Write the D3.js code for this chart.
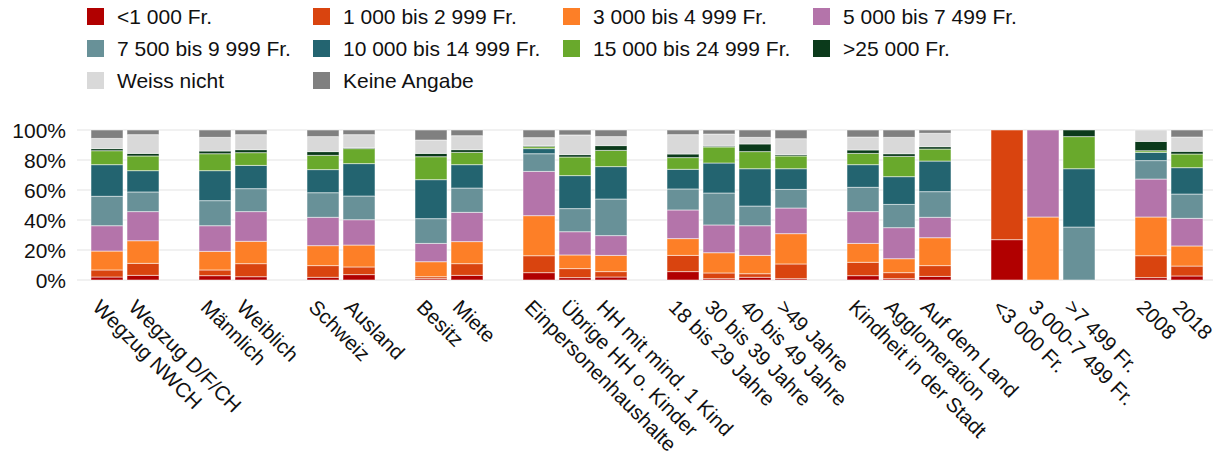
<!DOCTYPE html>
<meta charset="utf-8">
<html>
<head>
<style>
body { margin: 0; background: #fff; }
text {
  font-family: "Liberation Sans", Arial, sans-serif;
  font-size: 21px;
  fill: #111;
}
.xlabel { font-size: 20.5px; }
.grid line {
  stroke: #ececec;
  stroke-width: 1.5;
}
.bar rect {
  stroke: #fff;
  stroke-opacity: 0.5;
  stroke-width: 1;
}
</style>
<script src="https://cdnjs.cloudflare.com/ajax/libs/d3/7.8.5/d3.min.js"></script>
</head>
<body>
<svg width="1217" height="461"></svg>
<script>
// bar groups (an empty slot is left between groups)
var groups = [
  ["Wegzug NWCH", "Wegzug D/F/CH"],
  ["Männlich", "Weiblich"],
  ["Schweiz", "Ausland"],
  ["Besitz", "Miete"],
  ["Einpersonenhaushalte", "Übrige HH o. Kinder", "HH mit mind. 1 Kind"],
  ["18 bis 29 Jahre", "30 bis 39 Jahre", "40 bis 49 Jahre", ">49 Jahre"],
  ["Kindheit in der Stadt", "Agglomeration", "Auf dem Land"],
  ["<3 000 Fr.", "3 000-7 499 Fr.", ">7 499 Fr."],
  ["2008", "2018"]
];

var seriesNames = ["<1 000 Fr.", "1 000 bis 2 999 Fr.", "3 000 bis 4 999 Fr.", "5 000 bis 7 499 Fr.",
  "7 500 bis 9 999 Fr.", "10 000 bis 14 999 Fr.", "15 000 bis 24 999 Fr.", ">25 000 Fr.",
  "Weiss nicht", "Keine Angabe"];

var colors = ["#b10000", "#d9440f", "#fd7f27", "#b474aa", "#689198", "#236470", "#69a92c", "#0b3a1b", "#d9d9d9", "#808080"];

// shares in % per bar, same order as the labels in groups
var lt1000    = [2.0, 3.1, 2.9, 2.2, 1.8, 3.6, 0.9, 3.1, 4.9, 1.6, 2.0, 5.6, 0.9, 1.8, 0.9, 2.9, 0.9, 2.4, 26.9, 0, 0, 1.6, 2.7];
var b1000     = [4.7, 8.0, 3.8, 8.7, 7.8, 5.1, 1.3, 7.8, 11.3, 6.0, 3.6, 10.8, 3.8, 2.4, 9.8, 8.9, 4.0, 7.2, 73.1, 0, 0, 14.6, 6.6];
var b3000     = [12.6, 15.1, 12.4, 14.9, 13.3, 14.6, 10.0, 14.7, 26.7, 9.1, 10.8, 11.2, 13.5, 12.2, 20.2, 12.6, 9.3, 18.6, 0, 42.0, 0, 25.8, 13.4];
var b5000     = [16.9, 19.4, 17.1, 19.8, 18.9, 16.9, 12.2, 19.5, 29.5, 15.5, 13.2, 19.1, 18.5, 19.8, 17.1, 21.2, 20.7, 13.6, 0, 58.0, 0, 25.3, 18.4];
var b7500     = [19.6, 13.1, 16.7, 15.3, 16.4, 15.8, 16.5, 16.2, 11.8, 15.4, 24.4, 14.0, 21.3, 13.1, 12.4, 16.2, 15.5, 17.1, 0, 0, 35.3, 12.3, 16.2];
var b10000    = [21.1, 14.2, 20.0, 15.5, 15.4, 21.6, 26.0, 15.6, 3.4, 22.0, 21.6, 13.1, 20.0, 24.9, 13.8, 15.1, 18.5, 20.4, 0, 0, 38.9, 5.5, 17.6];
var b15000    = [9.3, 9.8, 11.3, 8.5, 9.5, 10.0, 15.3, 8.2, 1.3, 12.4, 10.8, 7.8, 10.7, 11.4, 8.5, 7.5, 13.5, 8.0, 0, 0, 21.4, 1.1, 9.1];
var gt25000   = [1.4, 1.7, 1.8, 2.0, 2.5, 0.6, 2.2, 1.8, 0.7, 1.6, 3.2, 2.4, 0.6, 5.1, 0.9, 2.3, 1.8, 1.6, 0, 0, 4.4, 6.2, 1.8];
var weiss     = [6.8, 12.5, 9.1, 10.0, 10.0, 8.7, 8.9, 9.3, 5.3, 13.1, 6.0, 12.9, 8.0, 4.4, 10.6, 8.6, 10.9, 8.9, 0, 0, 0, 7.6, 9.5];
var keine     = [5.6, 3.1, 4.9, 3.1, 4.4, 3.1, 6.7, 3.8, 5.1, 3.3, 4.4, 3.1, 2.7, 4.9, 5.8, 4.7, 4.9, 2.2, 0, 0, 0, 0, 4.7];

var yTicks = [0, 20, 40, 60, 80, 100];

var seriesValues = [lt1000, b1000, b3000, b5000, b7500, b10000, b15000, gt25000, weiss, keine];

var svg = d3.select("svg");

// slot domain with blanks between groups
var slots = [], labels = [];
groups.forEach(function(g, gi) {
  if (gi > 0) slots.push("_gap" + gi);
  g.forEach(function(l) { slots.push(l); labels.push(l); });
});

var table = labels.map(function(l, i) {
  var row = {label: l};
  seriesNames.forEach(function(s, j) { row[s] = seriesValues[j][i]; });
  return row;
});

var x = d3.scaleBand()
    .domain(slots)
    .range([77, 1217])
    .paddingInner(4 / 36)
    .paddingOuter(0.389);

var y = d3.scaleLinear()
    .domain([0, 100])
    .range([280, 130]);

// grid
svg.append("g")
    .attr("class", "grid")
  .selectAll("line")
  .data(yTicks)
  .enter().append("line")
    .attr("x1", 77)
    .attr("x2", 1213)
    .attr("y1", function(d) { return y(d); })
    .attr("y2", function(d) { return y(d); });

svg.append("g")
  .selectAll("text")
  .data(yTicks)
  .enter().append("text")
    .attr("x", 66)
    .attr("y", function(d) { return y(d); })
    .attr("dy", "0.36em")
    .attr("text-anchor", "end")
    .text(function(d) { return d + "%"; });

// stacked bars
var stack = d3.stack().keys(seriesNames);
var layers = stack(table);

svg.selectAll(".bar")
  .data(layers)
  .enter().append("g")
    .attr("class", "bar")
    .attr("fill", function(d, i) { return colors[i]; })
  .selectAll("rect")
  .data(function(d) { return d.filter(function(p) { return p[1] - p[0] > 0; }); })
  .enter().append("rect")
    .attr("x", function(d) { return x(d.data.label); })
    .attr("width", x.bandwidth())
    .attr("y", function(d) { return y(d[1]); })
    .attr("height", function(d) { return y(d[0]) - y(d[1]); });

// x labels, rotated
svg.append("g")
  .selectAll("text")
  .data(labels)
  .enter().append("text")
    .attr("class", "xlabel")
    .attr("transform", function(d) {
      return "translate(" + (x(d) + x.bandwidth() / 2 - 5) + ",298) rotate(45)";
    })
    .attr("dy", "0.72em")
    .text(function(d) { return d; });

// legend
var legendCols = [87, 313, 563, 813];
var legend = svg.append("g")
  .selectAll("g")
  .data(seriesNames)
  .enter().append("g")
    .attr("transform", function(d, i) {
      return "translate(" + legendCols[i % 4] + "," + (8 + Math.floor(i / 4) * 32) + ")";
    });

legend.append("rect")
    .attr("width", 17)
    .attr("height", 17)
    .attr("fill", function(d, i) { return colors[i]; });

legend.append("text")
    .attr("x", 30)
    .attr("y", 8.5)
    .attr("dy", "0.36em")
    .text(function(d) { return d; });
</script>
</body>
</html>
